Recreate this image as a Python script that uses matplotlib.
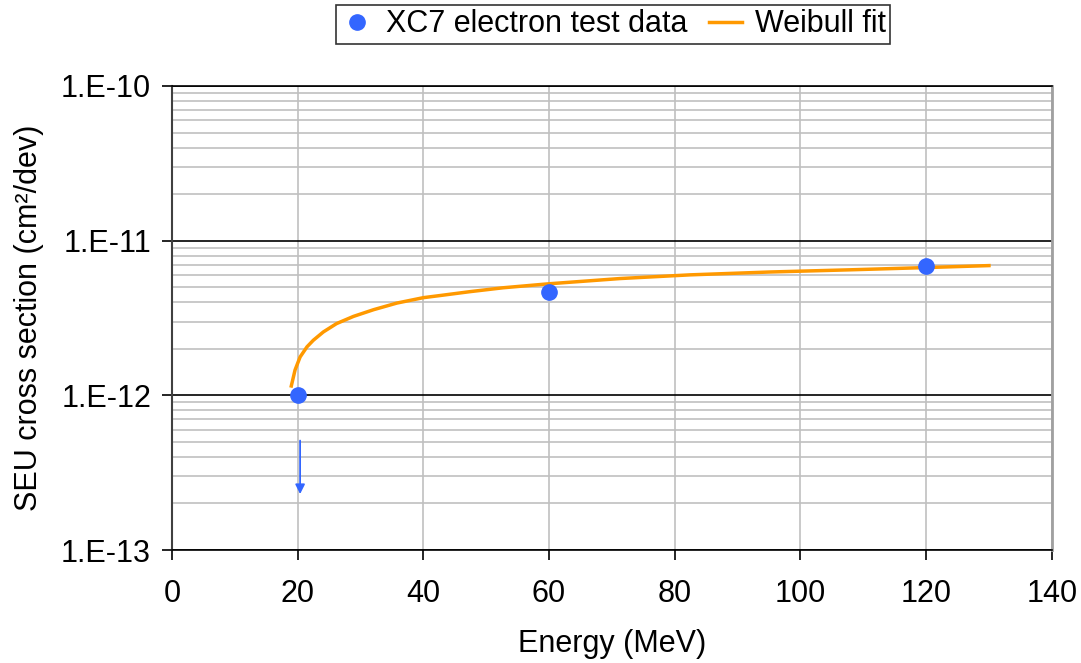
import matplotlib.pyplot as plt
from matplotlib.ticker import FixedLocator, FuncFormatter, LogLocator, NullFormatter
import numpy as np

plt.rcParams['font.family'] = ['Liberation Sans', 'DejaVu Sans']

# measured points
energy = [20, 60, 120]
xsec = [1.0e-12, 4.65e-12, 6.85e-12]

# Weibull fit curve
fit_energy = [19.0, 19.6, 20.4, 21.5, 22.5, 24.1, 26.2, 28.9, 32.1, 35.8,
              40.0, 42.7, 47.4, 52.7, 59.9, 71.3, 82.4, 95.0, 107.9, 120.0,
              130.0]
fit_xsec = [1.15e-12, 1.46e-12, 1.77e-12, 2.06e-12, 2.27e-12, 2.57e-12,
            2.91e-12, 3.24e-12, 3.58e-12, 3.95e-12, 4.28e-12, 4.42e-12,
            4.68e-12, 4.96e-12, 5.26e-12, 5.69e-12, 6.01e-12, 6.27e-12,
            6.48e-12, 6.70e-12, 6.90e-12]

# upper-limit arrow under the 20 MeV point
limit_energy = [20.4, 20.4]
limit_xsec = [5.1e-13, 2.3e-13]

x_ticks = [0, 20, 40, 60, 80, 100, 120, 140]
y_ticks = [1e-13, 1e-12, 1e-11, 1e-10]

blue = '#3366FF'
orange = '#FF9900'
fs = 22

fig = plt.figure(figsize=(10.81, 6.63), dpi=100)
ax = fig.add_axes([0.159, 0.1704, 0.814, 0.6999])

ax.set_yscale('log')
ax.set_xlim(0, 140)
ax.set_ylim(1e-13, 1e-10)

# grid
ax.yaxis.set_minor_locator(LogLocator(base=10, subs=np.arange(2, 10)))
ax.yaxis.set_minor_formatter(NullFormatter())
ax.grid(which='minor', axis='y', color='#C0C0C0', lw=1.2)
ax.grid(which='major', axis='y', color='black', lw=1.2)
ax.grid(which='major', axis='x', color='#C0C0C0', lw=1.2)
ax.set_axisbelow(True)

pts, = ax.plot(energy, xsec, 'o', color=blue, markersize=11, zorder=4,
               label='XC7 electron test data')
fit, = ax.plot(fit_energy, fit_xsec, '-', color=orange, lw=2.5, zorder=3,
               label='Weibull fit')

ax.annotate('', xy=(limit_energy[1], limit_xsec[1]),
            xytext=(limit_energy[0], limit_xsec[0]),
            arrowprops=dict(arrowstyle='-|>', color=blue, lw=1.3,
                            mutation_scale=14, shrinkA=0, shrinkB=0))

ax.xaxis.set_major_locator(FixedLocator(x_ticks))
ax.yaxis.set_major_locator(FixedLocator(y_ticks))
ax.yaxis.set_major_formatter(FuncFormatter(lambda v, p: '1.E%d' % round(np.log10(v))))
ax.tick_params(axis='both', which='major', direction='out', length=7,
               width=1.2, labelsize=fs)
ax.tick_params(axis='y', which='major', pad=8)
ax.tick_params(axis='x', which='major', pad=14)
ax.tick_params(axis='y', which='minor', length=0)

ax.spines['left'].set_color('#404040')
ax.spines['left'].set_linewidth(1.5)
ax.spines['bottom'].set_color('black')
ax.spines['bottom'].set_linewidth(1.2)
ax.spines['top'].set_color('black')
ax.spines['top'].set_linewidth(1.2)
ax.spines['right'].set_color('#A0A0A0')
ax.spines['right'].set_linewidth(2)

ax.set_xlabel('Energy (MeV)', fontsize=fs, labelpad=14)
ax.set_ylabel('SEU cross section (cm²/dev)', fontsize=fs, labelpad=12)

leg = fig.legend(handles=[pts, fit], loc='upper center',
                 bbox_to_anchor=(0.567, 0.993), ncol=2, fontsize=fs,
                 frameon=True, fancybox=False, handlelength=1.1,
                 handletextpad=0.4, columnspacing=0.7, borderpad=0.15,
                 borderaxespad=0)
leg.get_frame().set_edgecolor('black')
leg.get_frame().set_linewidth(1.2)

fig.savefig('out.png', dpi=100)
